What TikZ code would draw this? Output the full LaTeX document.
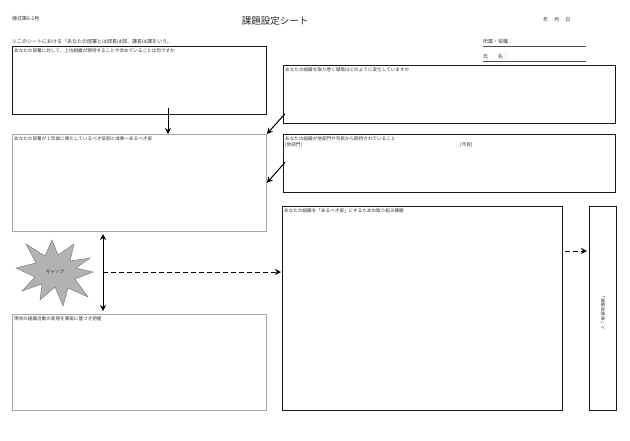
\documentclass[tikz,border=0pt]{standalone}
\usepackage{fontspec}
\setmainfont{Noto Sans CJK JP}
\usetikzlibrary{arrows.meta}
\tikzset{
  box/.style={draw=black!90, line width=0.8pt, fill=white, inner sep=0pt, anchor=north west},
  graybox/.style={draw=black!35, line width=0.8pt, fill=white, inner sep=0pt, anchor=north west},
  lbl/.style={font=\fontsize{4.6}{5}\selectfont, text=black!80, inner sep=0pt, anchor=north west},
  arr/.style={-{Stealth[length=6pt,width=6pt,inset=2pt]}, line width=1pt},
  darr/.style={{Stealth[length=6pt,width=6pt,inset=2pt]}-{Stealth[length=6pt,width=6pt,inset=2pt]}, line width=1pt},
  dasharr/.style={-{Stealth[length=6pt,width=6pt,inset=2pt]}, line width=1pt, dash pattern=on 5pt off 3pt},
}
\begin{document}
\begin{tikzpicture}[x=1pt,y=-1pt]
\useasboundingbox (0,0) rectangle (630,440);
\fill[white] (0,0) rectangle (630,440);

% header
\node[lbl, font=\fontsize{5}{6}\selectfont] (form) at (12,16) {様式第6-1号};
\node[inner sep=0pt, font=\fontsize{9.5}{11}\selectfont, text=black!85] (title) at (275,21) {課題設定シート};
\node[lbl, font=\fontsize{5}{6}\selectfont] (date) at (543,17) {年　 月　 日};
\node[lbl, font=\fontsize{5}{6}\selectfont] (note) at (12,39) {※このシートにおける「あなたの部署とは部長は部、課長は課をいう。};
\node[lbl, font=\fontsize{5}{6}\selectfont] (aff) at (483,39.5) {所属・役職：};
\coordinate (affL) at (483,46);
\coordinate (affR) at (586,46);
\draw[line width=0.5pt, black!70] (affL) -- (affR);
\node[lbl, font=\fontsize{5}{6}\selectfont] (nm) at (483,54.5) {氏　　名：};
\coordinate (nmL) at (483,61);
\coordinate (nmR) at (586,61);
\draw[line width=0.5pt, black!70] (nmL) -- (nmR);

% boxes
\node[box, minimum width=254pt, minimum height=68pt] (b1) at (12,46) {};
\node[box, minimum width=332pt, minimum height=58pt] (b2) at (283,65) {};
\node[graybox, minimum width=254pt, minimum height=97pt] (b3) at (12,134) {};
\node[box, minimum width=332pt, minimum height=58pt] (b4) at (283,134) {};
\node[box, minimum width=280pt, minimum height=204pt] (b5) at (282,206) {};
\node[box, minimum width=27pt, minimum height=204pt] (b6) at (589,206) {};
\node[graybox, minimum width=254pt, minimum height=96pt] (b7) at (12,314) {};

% box labels
\node[lbl] (t1) at ([xshift=2pt,yshift=-2pt]b1.north west) {あなたの部署に対して、上位組織が期待することや求めていることは何ですか};
\node[lbl] (t2) at ([xshift=2pt,yshift=-2pt]b2.north west) {あなたの組織を取り巻く環境はどのように変化していますか};
\node[lbl] (t3) at ([xshift=2pt,yshift=-2pt]b3.north west) {あなたの部署が１年後に果たしているべき役割と成果～あるべき姿};
\node[lbl] (t4) at ([xshift=2pt,yshift=-2pt]b4.north west) {あなたの組織が他部門や市民から期待されていること};
\node[lbl] (t4a) at ([xshift=2pt,yshift=-8.5pt]b4.north west) {[他部門]};
\node[lbl] (t4b) at (460,142.5) {[市民]};
\node[lbl] (t5) at ([xshift=2pt,yshift=-2pt]b5.north west) {あなたの組織を「あるべき姿」にするための取り組み課題};
\node[lbl] (t7) at ([xshift=2pt,yshift=-2pt]b7.north west) {現状の組織活動の実態を事実に基づき把握};
\node[inner sep=0pt, align=center, font=\fontsize{4.3}{4.6}\selectfont, text=black!80] (t6) at (603,313)
  {﹁\\業\\績\\評\\価\\表\\﹂\\へ};

% starburst
\draw[fill=black!30, draw=black!55, line width=0.4pt]
  (93,272) -- (75,279) -- (88,297) -- (68,288) -- (63,306) -- (55,287) -- (40,300)
  -- (42,284) -- (22,291) -- (35,277) -- (16,268) -- (36,263) -- (26,244) -- (45,256)
  -- (52,240) -- (58,255) -- (74,244) -- (70,261) -- (90,258) -- (76,268) -- cycle;
\node[inner sep=0pt, font=\fontsize{4.6}{5}\selectfont, text=black!80] (gap) at (55,272) {ギャップ};

% arrows
\coordinate (a1s) at (168,108);
\draw[arr] (a1s) -- (a1s |- b3.north);
\draw[arr] ([xshift=2pt,yshift=10pt]b2.south west) -- (b3.north east);
\draw[arr] ([xshift=2pt,yshift=1pt]b4.west) -- (b3.east);
\coordinate (dt) at (103,234);
\coordinate (db) at (103,311);
\coordinate (dm) at (103,272);
\draw[darr] (dt) -- (db);
\draw[dasharr] (dm) -- ([xshift=-1pt]dm -| b5.west);
\coordinate (sm) at (565,251);
\draw[dasharr] (sm) -- ([xshift=-2pt]sm -| b6.west);
\end{tikzpicture}
\end{document}
